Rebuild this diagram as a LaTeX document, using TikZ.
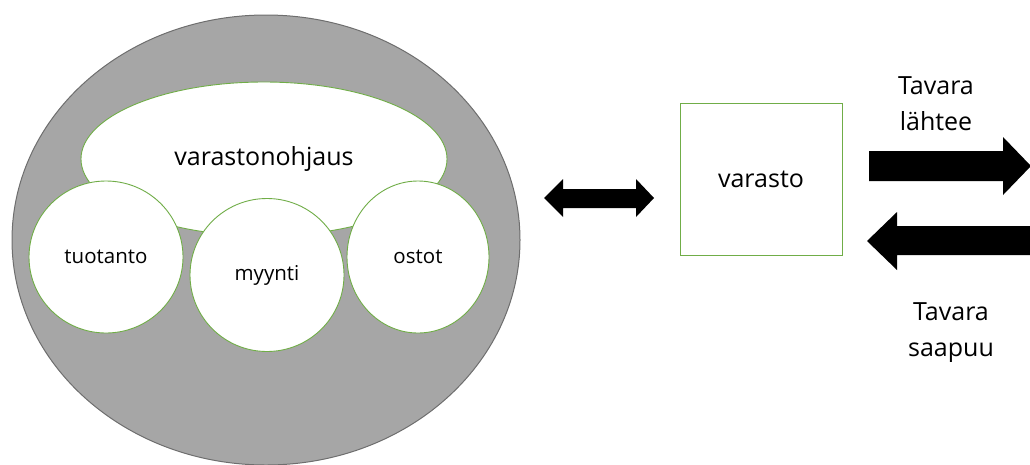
\documentclass[tikz,border=0pt]{standalone}
\usepackage{fontspec}
\setmainfont{Open Sans}
\usepackage{tikz}
\usetikzlibrary{shapes.geometric}
\usepackage{xcolor}
\definecolor{ringgray}{HTML}{A6A6A6}
\definecolor{edgegray}{HTML}{6E6E6E}
\definecolor{leafgreen}{HTML}{70AD47}
\tikzset{
  bubble/.style = {ellipse, draw=leafgreen, fill=white, line width=0.9pt, inner sep=0pt},
  bigtext/.style = {font=\fontsize{25}{36}\selectfont},
  smalltext/.style = {font=\fontsize{20.5}{24}\selectfont}
}
\begin{document}
\begin{tikzpicture}[x=1pt, y=-1pt]
\useasboundingbox (0,0) rectangle (1030,464);
% organisation
\draw[fill=ringgray, draw=edgegray, line width=1pt] (266,240) ellipse [x radius=254, y radius=225];
\node[bubble, bigtext, minimum width=366pt, minimum height=154pt] (ohjaus) at (264,159) {varastonohjaus};
\node[bubble, smalltext, minimum width=154pt, minimum height=152pt] (tuotanto) at (106,257) {tuotanto};
\node[bubble, smalltext, minimum width=154pt, minimum height=153pt] (myynti) at (267,275) {myynti};
\node[bubble, smalltext, minimum width=142pt, minimum height=152pt] (ostot) at (418,257) {ostot};
% two-way arrow
\fill[black] (544,198) -- (563,179) -- (563,189) -- (636,189) -- (636,179) -- (654,198)
  -- (636,217) -- (636,208) -- (563,208) -- (563,217) -- cycle;
% warehouse
\node[draw=leafgreen, line width=0.9pt, bigtext, minimum width=162pt, minimum height=152pt] (varasto) at (761,179) {varasto};
% goods out / in
\fill[black] (869,151) -- (1003,151) -- (1003,137) -- (1031,166) -- (1003,195) -- (1003,181) -- (869,181) -- cycle;
\fill[black] (867,241) -- (897,212) -- (897,226) -- (1031,226) -- (1031,255) -- (897,255) -- (897,270) -- cycle;
\node[bigtext, align=center] (lahtee) at (936,104) {Tavara\\lähtee};
\node[bigtext, align=center] (saapuu) at (951,333) {Tavara\\saapuu};
\end{tikzpicture}
\end{document}
